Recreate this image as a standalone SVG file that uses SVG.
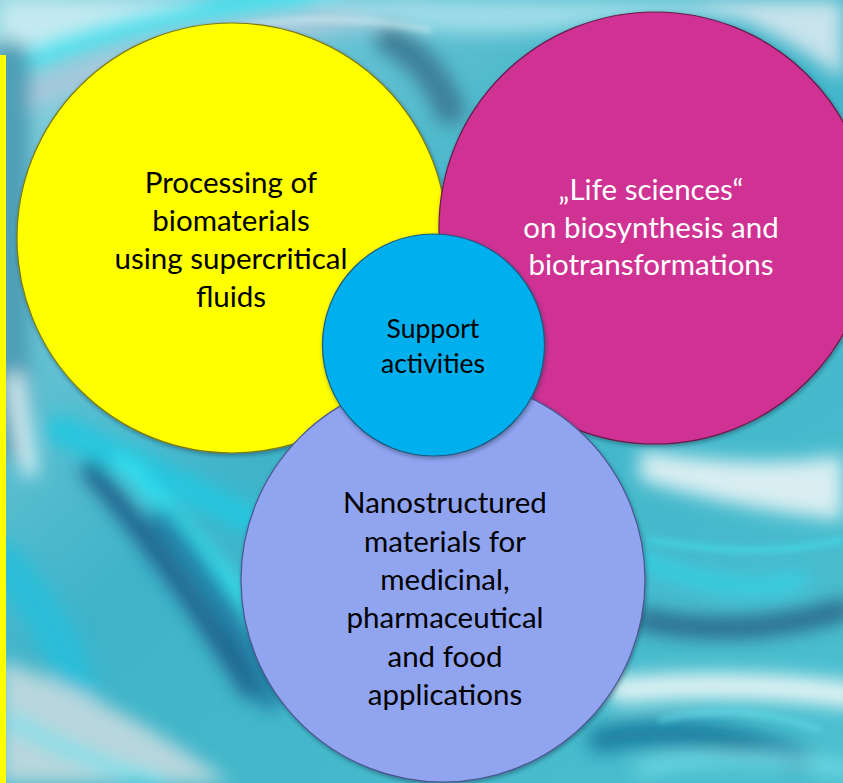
<svg xmlns="http://www.w3.org/2000/svg" width="843" height="783" viewBox="0 0 843 783">
  <defs>
    <linearGradient id="bgBase" x1="0" y1="0" x2="1" y2="1">
      <stop offset="0" stop-color="#8fd3e0"/>
      <stop offset="0.45" stop-color="#3fb3c8"/>
      <stop offset="1" stop-color="#4cc0d0"/>
    </linearGradient>
    <filter id="soft" x="-20%" y="-20%" width="140%" height="140%">
      <feGaussianBlur stdDeviation="9"/>
    </filter>
    <filter id="softer" x="-20%" y="-20%" width="140%" height="140%">
      <feGaussianBlur stdDeviation="3"/>
    </filter>
    <filter id="disc" x="-10%" y="-10%" width="120%" height="120%">
      <feDropShadow dx="1" dy="2" stdDeviation="2" flood-color="#1a2a40" flood-opacity="0.45"/>
    </filter>
  </defs>
  <style>
    .lbl { font-family: Lato, "Open Sans", "Liberation Sans", sans-serif; text-anchor: middle; }
    .big { font-size: 29.5px; }
    .small { font-size: 26.5px; }
    .dark { fill: #000000; }
    .light { fill: #ffffff; }
    .rim { stroke-width: 1.2; }
    .swirl { fill: none; stroke-linecap: round; }
  </style>

  <!-- water swirl backdrop -->
  <g id="backdrop">
    <rect x="0" y="0" width="843" height="783" fill="url(#bgBase)"/>
    <g filter="url(#soft)">
      <path d="M0 0 H300 Q150 30 0 60 Z" fill="#c4eaf1"/>
      <path class="swirl" d="M0 70 Q140 10 330 -5" stroke="#3fe3ef" stroke-width="18"/>
      <path class="swirl" d="M20 100 Q180 30 420 10" stroke="#a9c9dc" stroke-width="26"/>
      <path d="M300 0 H843 V40 Q700 0 560 30 Q450 40 380 20 Z" fill="#9fdde8"/>
      <path d="M690 0 H843 V80 Q780 30 690 0 Z" fill="#c8e3ec"/>
      <path class="swirl" d="M390 40 Q430 60 450 110" stroke="#3e7f98" stroke-width="30"/>
      <path class="swirl" d="M10 60 V440" stroke="#4d9fb6" stroke-width="40"/>
      <path class="swirl" d="M15 380 Q20 420 30 470" stroke="#e6f6f8" stroke-width="14"/>
      <path class="swirl" d="M60 430 Q150 470 250 520" stroke="#27c6de" stroke-width="30"/>
      <path class="swirl" d="M90 470 Q170 560 250 690" stroke="#1c5c86" stroke-width="18"/>
      <path class="swirl" d="M120 460 Q200 540 260 620" stroke="#35e4f2" stroke-width="14"/>
      <path class="swirl" d="M160 520 Q230 600 270 700" stroke="#247ea6" stroke-width="22"/>
      <path class="swirl" d="M0 560 Q60 620 80 700" stroke="#2bbdd8" stroke-width="40"/>
      <path d="M0 660 Q120 700 230 783 H0 Z" fill="#b7d7dd"/>
      <path class="swirl" d="M10 720 Q80 760 160 783" stroke="#58e2ef" stroke-width="10"/>
      <path d="M640 450 Q760 470 843 455 V520 Q740 510 640 480 Z" fill="#d9eef2"/>
      <path class="swirl" d="M640 560 Q740 600 800 580" stroke="#2fd6ea" stroke-width="12"/>
      <path class="swirl" d="M645 620 Q740 640 843 610" stroke="#2a6a8e" stroke-width="22"/>
      <path class="swirl" d="M620 690 Q740 680 850 695" stroke="#e3f4f5" stroke-width="26"/>
      <path class="swirl" d="M600 740 Q700 720 800 760" stroke="#1e7fa0" stroke-width="26"/>
      <path class="swirl" d="M640 770 Q730 745 850 770" stroke="#7de2ec" stroke-width="10"/>
    </g>
    <g filter="url(#softer)" opacity="0.7">
      <path class="swirl" d="M180 40 Q300 5 430 30" stroke="#e2f4f8" stroke-width="4"/>
      <path class="swirl" d="M650 540 Q760 560 843 540" stroke="#40eaf5" stroke-width="4"/>
      <path class="swirl" d="M660 720 Q740 700 820 730" stroke="#68e4ef" stroke-width="4"/>
    </g>
  </g>

  <!-- left-edge accent bar -->
  <rect id="accent-bar" x="0" y="55" width="6" height="728" fill="#ffff00"/>

  <!-- circles: yellow, magenta, lavender, then the small blue one on top -->
  <g id="node-processing">
    <circle cx="232" cy="238" r="215" fill="#ffff00" stroke="#7a7a10" class="rim" filter="url(#disc)"/>
    <text class="lbl big dark" x="231" y="193">Processing of</text>
    <text class="lbl big dark" x="231" y="231">biomaterials</text>
    <text class="lbl big dark" x="231" y="269">using supercritical</text>
    <text class="lbl big dark" x="231" y="307">fluids</text>
  </g>

  <g id="node-life-sciences">
    <circle cx="655" cy="228" r="216" fill="#d03194" stroke="#6a1a4a" class="rim" filter="url(#disc)"/>
    <text class="lbl big light" x="651" y="200">„Life sciences“</text>
    <text class="lbl big light" x="651" y="238">on biosynthesis and</text>
    <text class="lbl big light" x="651" y="275">biotransformations</text>
  </g>

  <g id="node-nanostructured">
    <circle cx="443" cy="580" r="202" fill="#91a4f0" stroke="#4a5590" class="rim" filter="url(#disc)"/>
    <text class="lbl big dark" x="445" y="513">Nanostructured</text>
    <text class="lbl big dark" x="445" y="552">materials for</text>
    <text class="lbl big dark" x="445" y="590">medicinal,</text>
    <text class="lbl big dark" x="445" y="628">pharmaceutical</text>
    <text class="lbl big dark" x="445" y="667">and food</text>
    <text class="lbl big dark" x="445" y="705">applications</text>
  </g>

  <g id="node-support">
    <circle cx="433.5" cy="345" r="111" fill="#00b0ee" stroke="#1a5a80" class="rim" filter="url(#disc)"/>
    <text class="lbl small dark" x="433" y="338">Support</text>
    <text class="lbl small dark" x="433" y="373">activities</text>
  </g>

  <g id="connectors"/>
</svg>
